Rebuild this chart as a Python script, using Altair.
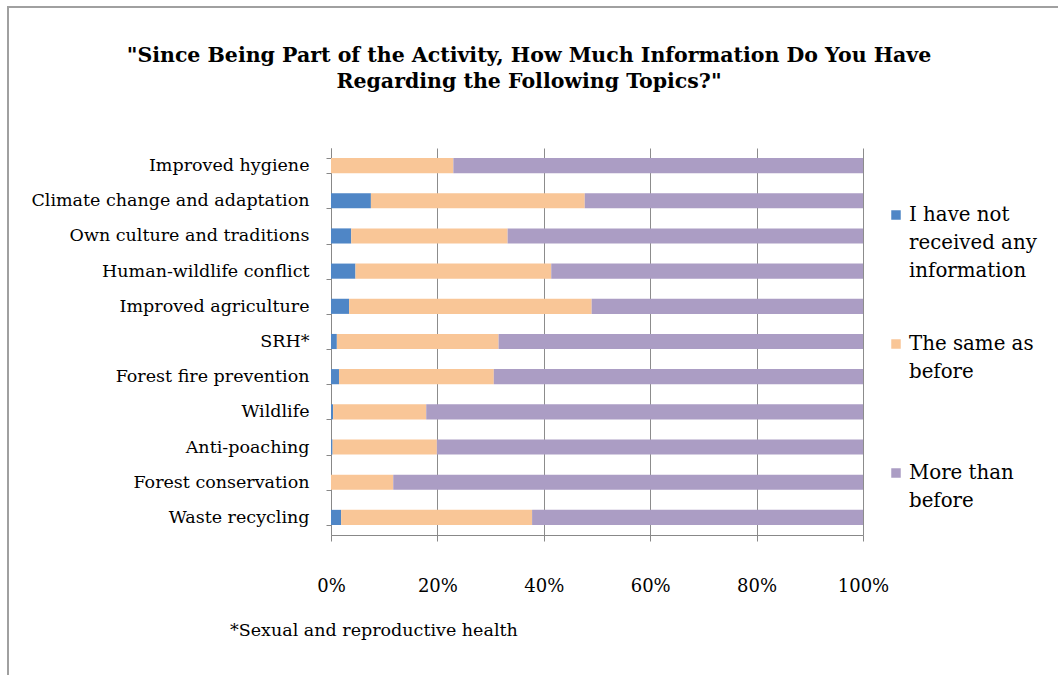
import altair as alt
import pandas as pd

topics = ["Improved hygiene", "Climate change and adaptation", "Own culture and traditions",
          "Human-wildlife conflict", "Improved agriculture", "SRH*", "Forest fire prevention",
          "Wildlife", "Anti-poaching", "Forest conservation", "Waste recycling"]
not_received = [0.0, 7.5, 3.8, 4.6, 3.4, 1.1, 1.5, 0.4, 0.3, 0.0, 1.9]
same = [23.0, 40.2, 29.4, 36.8, 45.6, 30.4, 29.1, 17.5, 19.6, 11.7, 35.9]
more = [77.0, 52.3, 66.8, 58.6, 51.0, 68.5, 69.4, 82.1, 80.1, 88.3, 62.2]
series = ["I have not received any information", "The same as before", "More than before"]
legend_labels = ["I have not\nreceived any\ninformation", "The same as\nbefore", "More than\nbefore"]
colors = ["#4f86c6", "#f9c697", "#ab9dc4"]
title_text = '"Since Being Part of the Activity, How Much Information Do You Have\nRegarding the Following Topics?"'
footnote = "*Sexual and reproductive health"

rows = []
for i, t in enumerate(topics):
    for k, (s, vals) in enumerate(zip(series, [not_received, same, more])):
        rows.append({"topic": t, "series": s, "value": vals[i] / 100.0, "order": k})
df = pd.DataFrame(rows)

FONT = "DejaVu Serif"
W, H = 532, 387

bars = alt.Chart(df).mark_bar().encode(
    y=alt.Y("topic:N", sort=topics, title=None,
            scale=alt.Scale(paddingInner=0.57, paddingOuter=0.285),
            axis=alt.Axis(labelFont=FONT, labelFontSize=17.5, labelColor="#000",
                          tickBand="extent", tickSize=5, tickColor="#888",
                          domainColor="#888", labelPadding=17, labelLimit=400)),
    x=alt.X("value:Q", stack="zero", title=None,
            scale=alt.Scale(domain=[0, 1], nice=False),
            axis=alt.Axis(format="%", values=[0, 0.2, 0.4, 0.6, 0.8, 1.0],
                          labelFont=FONT, labelFontSize=18, labelColor="#000", labelFlush=False,
                          grid=True, gridColor="#8c8c8c", tickColor="#888",
                          domainColor="#888", tickSize=6, labelPadding=36)),
    color=alt.Color("series:N", sort=series,
                    scale=alt.Scale(domain=series, range=colors), legend=None),
    order=alt.Order("order:Q"),
)

one = pd.DataFrame({"t": [0]})

def txt(text, x, y, size, weight="normal", align="left", lh=28, baseline="middle"):
    return alt.Chart(one).mark_text(text=text, font=FONT, fontSize=size, fontWeight=weight,
                                    align=align, baseline=baseline, color="#000",
                                    lineBreak="\n", lineHeight=lh).encode(
        x=alt.value(x), y=alt.value(y))

def sym(color, x, y):
    return alt.Chart(one).mark_square(size=90, color=color, opacity=1).encode(
        x=alt.value(x), y=alt.value(y))

legend_y = [215 - 148, 344 - 148, 473 - 148]
legend_layers = []
for lab, col, ly in zip(legend_labels, colors, legend_y):
    legend_layers.append(sym(col, 896 - 331, ly))
    legend_layers.append(txt(lab, 909 - 331, ly, 19.8))

title = txt(title_text, 529 - 331, 62 - 148, 20.5, weight="bold", align="center", lh=26,
            baseline="alphabetic")
foot = txt(footnote, 230 - 331, 631 - 148, 17.5)

border = alt.Chart(one).mark_rect(fill=None, stroke="#a0a0a0", strokeWidth=2, clip=False).encode(
    x=alt.value(-323), x2=alt.value(760), y=alt.value(-141), y2=alt.value(600))

chart = alt.layer(border, bars, title, foot, *legend_layers).properties(
    width=W, height=H,
    autosize=alt.AutoSizeParams(type="none"),
    padding={"left": 331, "top": 148, "right": 195, "bottom": 140},
).configure_view(stroke=None)

chart.save("out.html", embed_options={"renderer": "svg", "actions": False})
